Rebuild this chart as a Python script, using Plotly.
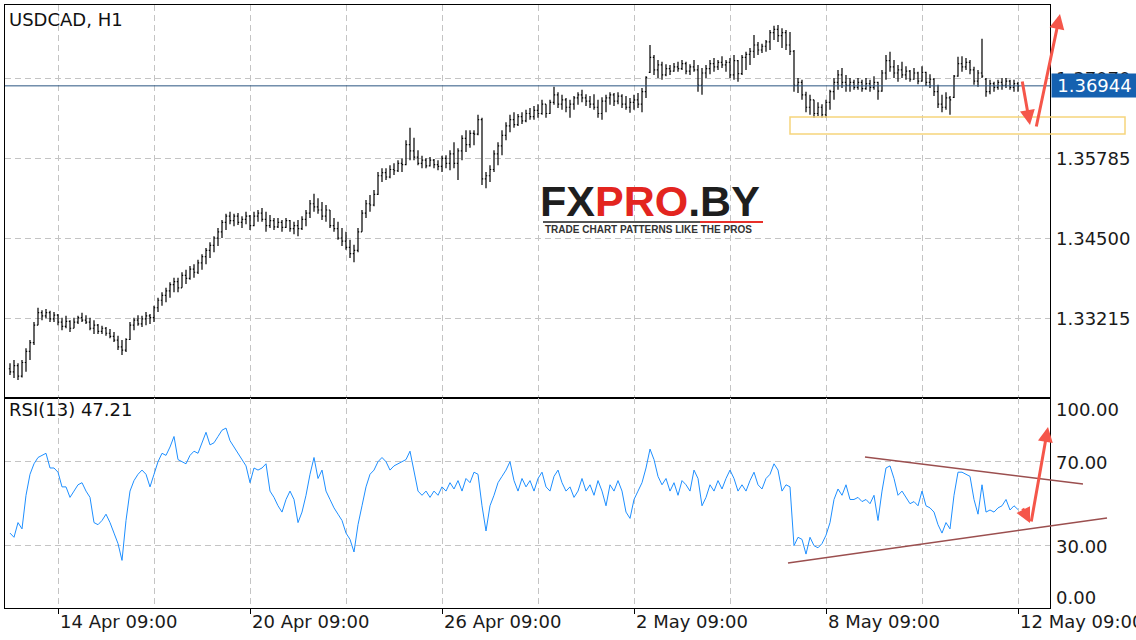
import plotly.graph_objects as go

# ---------------- data (USDCAD H1) ----------------
bar_high = [
    1.3249, 1.3254, 1.3249, 1.3254, 1.3273, 1.3286, 1.3315, 1.3338, 1.3334, 1.3336,
    1.3333, 1.3331, 1.3328, 1.3322, 1.3325, 1.3318, 1.3322, 1.3325, 1.3330, 1.3326,
    1.3322, 1.3318, 1.3312, 1.3309, 1.3307, 1.3304, 1.3299, 1.3293, 1.3286, 1.3289,
    1.3315, 1.3322, 1.3326, 1.3325, 1.3331, 1.3328, 1.3341, 1.3354, 1.3363, 1.3370,
    1.3379, 1.3386, 1.3386, 1.3395, 1.3399, 1.3405, 1.3408, 1.3415, 1.3424, 1.3434,
    1.3443, 1.3453, 1.3466, 1.3479, 1.3489, 1.3492, 1.3489, 1.3490, 1.3485, 1.3492,
    1.3487, 1.3492, 1.3495, 1.3498, 1.3492, 1.3487, 1.3482, 1.3482, 1.3479, 1.3482,
    1.3479, 1.3476, 1.3479, 1.3485, 1.3495, 1.3511, 1.3521, 1.3514, 1.3508, 1.3503,
    1.3495, 1.3482, 1.3476, 1.3466, 1.3460, 1.3447, 1.3439, 1.3466, 1.3495, 1.3511,
    1.3519, 1.3527, 1.3556, 1.3562, 1.3562, 1.3567, 1.3570, 1.3575, 1.3578, 1.3607,
    1.3627, 1.3611, 1.3591, 1.3582, 1.3578, 1.3580, 1.3577, 1.3575, 1.3582, 1.3583,
    1.3591, 1.3604, 1.3594, 1.3615, 1.3623, 1.3623, 1.3623, 1.3648, 1.3643, 1.3556,
    1.3567, 1.3591, 1.3604, 1.3623, 1.3636, 1.3648, 1.3652, 1.3649, 1.3652, 1.3656,
    1.3659, 1.3662, 1.3665, 1.3672, 1.3665, 1.3672, 1.3693, 1.3684, 1.3680, 1.3675,
    1.3672, 1.3678, 1.3684, 1.3688, 1.3681, 1.3678, 1.3681, 1.3672, 1.3676, 1.3680,
    1.3684, 1.3683, 1.3684, 1.3681, 1.3678, 1.3675, 1.3680, 1.3683, 1.3691, 1.3710,
    1.3760, 1.3744, 1.3736, 1.3733, 1.3729, 1.3728, 1.3731, 1.3733, 1.3736, 1.3733,
    1.3729, 1.3736, 1.3728, 1.3723, 1.3728, 1.3736, 1.3739, 1.3736, 1.3742, 1.3736,
    1.3739, 1.3744, 1.3736, 1.3744, 1.3749, 1.3755, 1.3776, 1.3765, 1.3762, 1.3768,
    1.3784, 1.3791, 1.3792, 1.3787, 1.3784, 1.3781, 1.3752, 1.3707, 1.3704, 1.3685,
    1.3680, 1.3672, 1.3668, 1.3665, 1.3672, 1.3688, 1.3707, 1.3720, 1.3723, 1.3712,
    1.3707, 1.3704, 1.3707, 1.3704, 1.3707, 1.3704, 1.3710, 1.3701, 1.3720, 1.3744,
    1.3749, 1.3736, 1.3728, 1.3733, 1.3726, 1.3720, 1.3723, 1.3717, 1.3726, 1.3717,
    1.3713, 1.3707, 1.3696, 1.3680, 1.3684, 1.3678, 1.3712, 1.3741, 1.3742, 1.3739,
    1.3736, 1.3725, 1.3720, 1.3770, 1.3707, 1.3704, 1.3701, 1.3704, 1.3707, 1.3707,
    1.3704, 1.3704, 1.3701,
]
bar_low = [
    1.3230, 1.3225, 1.3222, 1.3226, 1.3235, 1.3254, 1.3278, 1.3310, 1.3318, 1.3321,
    1.3315, 1.3315, 1.3310, 1.3302, 1.3305, 1.3299, 1.3305, 1.3312, 1.3315, 1.3312,
    1.3302, 1.3296, 1.3296, 1.3296, 1.3293, 1.3289, 1.3283, 1.3270, 1.3262, 1.3267,
    1.3286, 1.3302, 1.3309, 1.3307, 1.3310, 1.3312, 1.3315, 1.3331, 1.3341, 1.3347,
    1.3354, 1.3363, 1.3363, 1.3370, 1.3376, 1.3383, 1.3386, 1.3392, 1.3399, 1.3408,
    1.3418, 1.3427, 1.3437, 1.3450, 1.3463, 1.3472, 1.3469, 1.3471, 1.3466, 1.3472,
    1.3463, 1.3469, 1.3476, 1.3476, 1.3460, 1.3466, 1.3463, 1.3466, 1.3460, 1.3466,
    1.3460, 1.3456, 1.3453, 1.3463, 1.3469, 1.3482, 1.3492, 1.3489, 1.3479, 1.3476,
    1.3466, 1.3460, 1.3447, 1.3437, 1.3431, 1.3418, 1.3411, 1.3427, 1.3460, 1.3482,
    1.3492, 1.3501, 1.3519, 1.3540, 1.3543, 1.3546, 1.3551, 1.3556, 1.3556, 1.3567,
    1.3575, 1.3575, 1.3567, 1.3562, 1.3562, 1.3565, 1.3562, 1.3559, 1.3556, 1.3562,
    1.3559, 1.3562, 1.3543, 1.3575, 1.3588, 1.3595, 1.3599, 1.3615, 1.3535, 1.3530,
    1.3540, 1.3556, 1.3567, 1.3583, 1.3607, 1.3620, 1.3627, 1.3630, 1.3633, 1.3636,
    1.3640, 1.3640, 1.3643, 1.3648, 1.3643, 1.3649, 1.3664, 1.3659, 1.3656, 1.3652,
    1.3643, 1.3656, 1.3664, 1.3668, 1.3662, 1.3659, 1.3656, 1.3643, 1.3640, 1.3652,
    1.3664, 1.3662, 1.3665, 1.3659, 1.3656, 1.3651, 1.3656, 1.3659, 1.3652, 1.3675,
    1.3715, 1.3712, 1.3707, 1.3704, 1.3710, 1.3712, 1.3717, 1.3717, 1.3720, 1.3713,
    1.3712, 1.3717, 1.3685, 1.3680, 1.3707, 1.3713, 1.3717, 1.3720, 1.3723, 1.3717,
    1.3707, 1.3704, 1.3701, 1.3712, 1.3720, 1.3728, 1.3739, 1.3744, 1.3747, 1.3749,
    1.3752, 1.3768, 1.3765, 1.3755, 1.3752, 1.3744, 1.3685, 1.3683, 1.3672, 1.3652,
    1.3648, 1.3643, 1.3646, 1.3643, 1.3643, 1.3656, 1.3672, 1.3688, 1.3691, 1.3685,
    1.3685, 1.3688, 1.3688, 1.3685, 1.3688, 1.3685, 1.3688, 1.3672, 1.3685, 1.3704,
    1.3717, 1.3707, 1.3701, 1.3707, 1.3704, 1.3701, 1.3704, 1.3697, 1.3701, 1.3694,
    1.3691, 1.3678, 1.3659, 1.3652, 1.3656, 1.3648, 1.3675, 1.3709, 1.3717, 1.3720,
    1.3713, 1.3696, 1.3693, 1.3707, 1.3677, 1.3681, 1.3685, 1.3688, 1.3688, 1.3691,
    1.3688, 1.3685, 1.3685,
]
bar_open = [
    1.3240, 1.3235, 1.3245, 1.3228, 1.3250, 1.3268, 1.3282, 1.3310, 1.3330, 1.3325,
    1.3330, 1.3320, 1.3326, 1.3315, 1.3308, 1.3316, 1.3305, 1.3315, 1.3322, 1.3318,
    1.3315, 1.3305, 1.3310, 1.3300, 1.3305, 1.3297, 1.3292, 1.3286, 1.3275, 1.3270,
    1.3287, 1.3310, 1.3318, 1.3312, 1.3320, 1.3325, 1.3322, 1.3338, 1.3350, 1.3358,
    1.3365, 1.3375, 1.3380, 1.3370, 1.3390, 1.3385, 1.3400, 1.3395, 1.3410, 1.3420,
    1.3430, 1.3438, 1.3450, 1.3460, 1.3475, 1.3485, 1.3478, 1.3485, 1.3475, 1.3480,
    1.3485, 1.3470, 1.3485, 1.3490, 1.3480, 1.3470, 1.3478, 1.3468, 1.3475, 1.3467,
    1.3478, 1.3465, 1.3470, 1.3465, 1.3480, 1.3490, 1.3505, 1.3500, 1.3495, 1.3485,
    1.3495, 1.3470, 1.3465, 1.3450, 1.3445, 1.3435, 1.3425, 1.3430, 1.3460, 1.3490,
    1.3505, 1.3503, 1.3520, 1.3550, 1.3555, 1.3548, 1.3560, 1.3558, 1.3570, 1.3568,
    1.3600, 1.3590, 1.3580, 1.3570, 1.3575, 1.3566, 1.3575, 1.3568, 1.3565, 1.3578,
    1.3570, 1.3585, 1.3570, 1.3590, 1.3610, 1.3600, 1.3618, 1.3617, 1.3640, 1.3545,
    1.3550, 1.3560, 1.3585, 1.3598, 1.3615, 1.3630, 1.3640, 1.3632, 1.3645, 1.3638,
    1.3650, 1.3645, 1.3655, 1.3650, 1.3665, 1.3650, 1.3668, 1.3680, 1.3665, 1.3672,
    1.3660, 1.3665, 1.3675, 1.3680, 1.3675, 1.3670, 1.3665, 1.3660, 1.3650, 1.3670,
    1.3675, 1.3680, 1.3670, 1.3678, 1.3665, 1.3660, 1.3668, 1.3672, 1.3665, 1.3685,
    1.3716, 1.3740, 1.3720, 1.3728, 1.3712, 1.3722, 1.3718, 1.3725, 1.3722, 1.3730,
    1.3718, 1.3725, 1.3720, 1.3695, 1.3715, 1.3722, 1.3730, 1.3725, 1.3732, 1.3728,
    1.3732, 1.3712, 1.3735, 1.3714, 1.3740, 1.3745, 1.3750, 1.3760, 1.3752, 1.3758,
    1.3765, 1.3780, 1.3785, 1.3775, 1.3780, 1.3760, 1.3750, 1.3695, 1.3700, 1.3680,
    1.3660, 1.3672, 1.3650, 1.3660, 1.3648, 1.3668, 1.3685, 1.3700, 1.3712, 1.3700,
    1.3695, 1.3700, 1.3692, 1.3700, 1.3690, 1.3698, 1.3692, 1.3700, 1.3686, 1.3715,
    1.3735, 1.3725, 1.3715, 1.3720, 1.3712, 1.3718, 1.3705, 1.3715, 1.3702, 1.3716,
    1.3700, 1.3705, 1.3685, 1.3665, 1.3660, 1.3675, 1.3676, 1.3710, 1.3730, 1.3725,
    1.3732, 1.3720, 1.3702, 1.3715, 1.3705, 1.3685, 1.3698, 1.3692, 1.3700, 1.3695,
    1.3702, 1.3692, 1.3698,
]
bar_close = [
    1.3235, 1.3245, 1.3228, 1.3250, 1.3268, 1.3282, 1.3310, 1.3330, 1.3325, 1.3330,
    1.3320, 1.3326, 1.3315, 1.3308, 1.3316, 1.3305, 1.3315, 1.3322, 1.3318, 1.3315,
    1.3305, 1.3310, 1.3300, 1.3305, 1.3297, 1.3292, 1.3286, 1.3275, 1.3270, 1.3287,
    1.3310, 1.3318, 1.3312, 1.3320, 1.3325, 1.3322, 1.3338, 1.3350, 1.3358, 1.3365,
    1.3375, 1.3380, 1.3370, 1.3390, 1.3385, 1.3400, 1.3395, 1.3410, 1.3420, 1.3430,
    1.3438, 1.3450, 1.3460, 1.3475, 1.3485, 1.3478, 1.3485, 1.3475, 1.3480, 1.3485,
    1.3470, 1.3485, 1.3490, 1.3480, 1.3470, 1.3478, 1.3468, 1.3475, 1.3467, 1.3478,
    1.3465, 1.3470, 1.3465, 1.3480, 1.3490, 1.3505, 1.3500, 1.3495, 1.3485, 1.3495,
    1.3470, 1.3465, 1.3450, 1.3445, 1.3435, 1.3425, 1.3430, 1.3460, 1.3490, 1.3505,
    1.3503, 1.3520, 1.3550, 1.3555, 1.3548, 1.3560, 1.3558, 1.3570, 1.3568, 1.3600,
    1.3590, 1.3580, 1.3570, 1.3575, 1.3566, 1.3575, 1.3568, 1.3565, 1.3578, 1.3570,
    1.3585, 1.3570, 1.3590, 1.3610, 1.3600, 1.3618, 1.3617, 1.3640, 1.3545, 1.3550,
    1.3560, 1.3585, 1.3598, 1.3615, 1.3630, 1.3640, 1.3632, 1.3645, 1.3638, 1.3650,
    1.3645, 1.3655, 1.3650, 1.3665, 1.3650, 1.3668, 1.3680, 1.3665, 1.3672, 1.3660,
    1.3665, 1.3675, 1.3680, 1.3675, 1.3670, 1.3665, 1.3660, 1.3650, 1.3670, 1.3675,
    1.3680, 1.3670, 1.3678, 1.3665, 1.3660, 1.3668, 1.3672, 1.3665, 1.3685, 1.3708,
    1.3740, 1.3720, 1.3728, 1.3712, 1.3722, 1.3718, 1.3725, 1.3722, 1.3730, 1.3718,
    1.3725, 1.3720, 1.3695, 1.3715, 1.3722, 1.3730, 1.3725, 1.3732, 1.3728, 1.3732,
    1.3712, 1.3735, 1.3714, 1.3740, 1.3745, 1.3750, 1.3760, 1.3752, 1.3758, 1.3765,
    1.3780, 1.3785, 1.3775, 1.3780, 1.3760, 1.3750, 1.3695, 1.3700, 1.3680, 1.3660,
    1.3672, 1.3650, 1.3660, 1.3648, 1.3668, 1.3685, 1.3700, 1.3712, 1.3700, 1.3695,
    1.3700, 1.3692, 1.3700, 1.3690, 1.3698, 1.3692, 1.3700, 1.3686, 1.3715, 1.3735,
    1.3725, 1.3715, 1.3720, 1.3712, 1.3718, 1.3705, 1.3715, 1.3702, 1.3716, 1.3700,
    1.3705, 1.3685, 1.3665, 1.3660, 1.3675, 1.3672, 1.3710, 1.3730, 1.3725, 1.3732,
    1.3720, 1.3702, 1.3715, 1.3710, 1.3685, 1.3698, 1.3692, 1.3700, 1.3695, 1.3702,
    1.3692, 1.3698, 1.36944,
]
rsi_values = [
    36, 34, 41, 38, 54, 64, 69, 72, 73, 74,
    67, 67, 65, 58, 58, 53, 56, 59, 60, 56,
    53, 41, 40, 42, 45, 41, 36, 31, 23, 42,
    56, 61, 64, 66, 64, 58, 64, 70, 74, 73,
    77, 82, 71, 70, 69, 73, 75, 74, 79, 84,
    78, 79, 82, 85, 86, 80, 77, 74, 71, 68,
    60, 67, 66, 67, 69, 56, 53, 49, 46, 52,
    56, 52, 41, 46, 54, 64, 72, 62, 66, 56,
    52, 48, 45, 42, 36, 33, 27, 40, 49, 58,
    64, 66, 70, 72, 70, 66, 68, 69, 70, 71,
    75, 66, 56, 54, 56, 53, 56, 54, 58, 56,
    60, 57, 61, 56, 62, 60, 65, 64, 49, 37,
    49, 54, 60, 63, 66, 70, 61, 56, 62, 58,
    61, 56, 62, 65, 58, 56, 63, 66, 60, 56,
    58, 53, 56, 62, 56, 59, 54, 61, 56, 49,
    59, 56, 61, 56, 46, 43, 52, 56, 60, 67,
    76, 71, 63, 59, 62, 56, 60, 54, 61, 59,
    56, 66, 62, 49, 53, 59, 56, 61, 57, 62,
    66, 62, 56, 59, 56, 61, 65, 59, 57, 62,
    64, 69, 66, 56, 59, 58, 30, 34, 33, 26,
    34, 30, 29, 31, 35, 41, 52, 57, 54, 59,
    52, 52, 53, 51, 52, 50, 54, 42, 56, 67,
    68, 62, 54, 56, 53, 50, 51, 49, 56, 49,
    48, 46, 40, 36, 41, 38, 54, 65, 65, 64,
    63, 52, 45, 59, 46, 47, 46, 48, 49, 52,
    47, 49, 47.21,
]
bar_index = list(range(len(bar_close)))

date_labels = ["14 Apr 09:00", "20 Apr 09:00", "26 Apr 09:00",
               "2 May 09:00", "8 May 09:00", "12 May 09:00"]
date_label_pos = [12, 60, 108, 156, 204, 252]
date_grid_minor = [36, 84, 132, 180, 228]
price_ticks = [1.33215, 1.34500, 1.35785, 1.37070]
rsi_grid = [30, 70]
rsi_axis_labels = ["100.00", "70.00", "30.00", "0.00"]
last_price = 1.36944
rsi_period = 13

# ---------------- figure ----------------
W, H = 1136, 640
L, R, T, B = 5, 86, 5, 32
PW, PH = W - L - R, H - T - B
split = 210 / PH


def px(xp):
    return (xp - L) / PW


def py(yp):
    return (H - B - yp) / PH


FONT = "DejaVu Sans"
TXT = "#1a1a1a"
GRID = "#c4c4c4"
DASH = "6px,4px"

fig = go.Figure()
fig.add_trace(go.Ohlc(
    x=bar_index, open=bar_open, high=bar_high, low=bar_low, close=bar_close,
    xaxis="x", yaxis="y", tickwidth=0.3,
    increasing=dict(line=dict(color="black", width=1.2)),
    decreasing=dict(line=dict(color="black", width=1.2)),
    hoverinfo="skip", showlegend=False,
))
fig.add_trace(go.Scatter(
    x=bar_index, y=rsi_values, xaxis="x2", yaxis="y2", mode="lines",
    line=dict(color="#1e8fff", width=1), hoverinfo="skip", showlegend=False,
))

xrange = [-1.25, 260]
common_x = dict(
    range=xrange, tickmode="array", tickvals=date_label_pos, showticklabels=False,
    showgrid=True, gridcolor=GRID, griddash=DASH, gridwidth=1,
    minor=dict(tickmode="array", tickvals=date_grid_minor, showgrid=True,
               gridcolor=GRID, griddash=DASH, gridwidth=1, ticks=""),
    showline=True, mirror=True, linecolor="black", linewidth=1.3,
    zeroline=False, fixedrange=True,
)
fig.update_layout(
    width=W, height=H, margin=dict(l=L, r=R, t=T, b=B),
    paper_bgcolor="white", plot_bgcolor="white", showlegend=False,
    font=dict(family=FONT, color=TXT, size=18),
    xaxis=dict(domain=[0, 1], anchor="y", rangeslider=dict(visible=False),
               ticks="", **common_x),
    xaxis2=dict(domain=[0, 1], anchor="y2", matches="x", ticks="outside",
                ticklen=5, tickcolor="black", tickwidth=1, **common_x),
    yaxis=dict(domain=[split, 1], anchor="x", range=[1.3193, 1.382426],
               tickmode="array", tickvals=price_ticks, showticklabels=False,
               showgrid=True, gridcolor=GRID, griddash=DASH, zeroline=False,
               showline=True, mirror=True, linecolor="black", linewidth=1.3,
               fixedrange=True),
    yaxis2=dict(domain=[0, split], anchor="x2", range=[0.33, 100.33],
                tickmode="array", tickvals=rsi_grid, showticklabels=False,
                showgrid=True, gridcolor=GRID, griddash=DASH, zeroline=False,
                showline=True, mirror=True, linecolor="black", linewidth=1.3,
                fixedrange=True),
)

shapes = []
# current price line
shapes.append(dict(type="line", xref="paper", yref="y", x0=0, x1=1,
                   y0=last_price, y1=last_price,
                   line=dict(color="#2a5580", width=1), layer="above"))
# yellow support zone
shapes.append(dict(type="rect", xref="paper", yref="paper",
                   x0=px(790), x1=px(1125), y0=py(134), y1=py(117),
                   line=dict(color="#f6d57c", width=1.5), layer="above"))
# RSI triangle lines
shapes.append(dict(type="line", xref="paper", yref="paper",
                   x0=px(865), y0=py(457), x1=px(1083), y1=py(484),
                   line=dict(color="#9b4f4f", width=1.5), layer="above"))
shapes.append(dict(type="line", xref="paper", yref="paper",
                   x0=px(788), y0=py(563), x1=px(1107), y1=py(518),
                   line=dict(color="#9b4f4f", width=1.5), layer="above"))
# watermark background + underline
shapes.append(dict(type="rect", xref="paper", yref="paper",
                   x0=px(540), x1=px(767), y0=py(245), y1=py(181),
                   fillcolor="white", line=dict(width=0), layer="between"))
shapes.append(dict(type="line", xref="paper", yref="paper",
                   x0=px(543), x1=px(700), y0=py(222), y1=py(222),
                   line=dict(color="#555555", width=2), layer="above"))
shapes.append(dict(type="line", xref="paper", yref="paper",
                   x0=px(700), x1=px(763), y0=py(222), y1=py(222),
                   line=dict(color="#e8302a", width=2), layer="above"))
fig.update_layout(shapes=shapes)

ann = []
ann.append(dict(text="USDCAD, H1", xref="paper", yref="paper", x=px(7), y=py(19),
                xanchor="left", yanchor="middle", showarrow=False,
                font=dict(size=18, color="#111111")))
ann.append(dict(text=f"RSI({rsi_period}) {rsi_values[-1]:.2f}", xref="paper",
                yref="paper", x=px(7), y=py(410), xanchor="left", yanchor="middle",
                showarrow=False, font=dict(size=18, color="#111111")))
for p in price_ticks:
    ann.append(dict(text=f"{p:.5f}", xref="paper", yref="y", x=px(1054), y=p,
                    xanchor="left", yanchor="middle", showarrow=False,
                    font=dict(size=18, color=TXT)))
ann.append(dict(text=f"{last_price:.5f}", xref="paper", yref="y", x=px(1051),
                y=last_price, xanchor="left", yanchor="middle", showarrow=False,
                bgcolor="#1561b0", borderpad=2, width=81, height=19, align="center",
                font=dict(size=18, color="white")))
for lab, yp in zip(rsi_axis_labels, [410, 462, 546, 597]):
    ann.append(dict(text=lab, xref="paper", yref="paper", x=px(1054), y=py(yp),
                    xanchor="left", yanchor="middle", showarrow=False,
                    font=dict(size=18, color=TXT)))
for lab, pos in zip(date_labels, date_label_pos):
    ann.append(dict(text=lab, xref="x2", yref="paper", x=pos, y=py(621.5),
                    xanchor="left", yanchor="middle", showarrow=False,
                    font=dict(size=18, color=TXT)))
# watermark
ann.append(dict(text="<b>FX<span style='color:#e3251f'>PRO</span>.BY</b>",
                xref="paper", yref="paper", x=px(650), y=py(201),
                xanchor="center", yanchor="middle", showarrow=False,
                font=dict(family="Liberation Sans", size=43, color="#1e1e1e")))
ann.append(dict(text="<b>TRADE CHART PATTERNS LIKE THE PROS</b>",
                xref="paper", yref="paper", x=px(648), y=py(230),
                xanchor="center", yanchor="middle", showarrow=False,
                font=dict(family="Liberation Sans", size=10, color="#333333")))
# red arrows (head position, tail offset in pixels)
RED = "#f5564a"
for hx, hy, tx, ty in [(1030, 125, 1022, 80), (1060, 14, 1036, 128),
                       (1030, 523, 1022, 507), (1048, 427, 1031, 523)]:
    ann.append(dict(text="", xref="paper", yref="paper", x=px(hx), y=py(hy),
                    ax=tx - hx, ay=ty - hy, showarrow=True, arrowhead=2,
                    arrowsize=1, arrowwidth=3, arrowcolor=RED))
fig.update_layout(annotations=ann)

fig.write_html("out.html",
               config={"displayModeBar": False},
               post_script="document.body.style.margin='0px';"
                           "document.body.style.overflow='hidden';")
